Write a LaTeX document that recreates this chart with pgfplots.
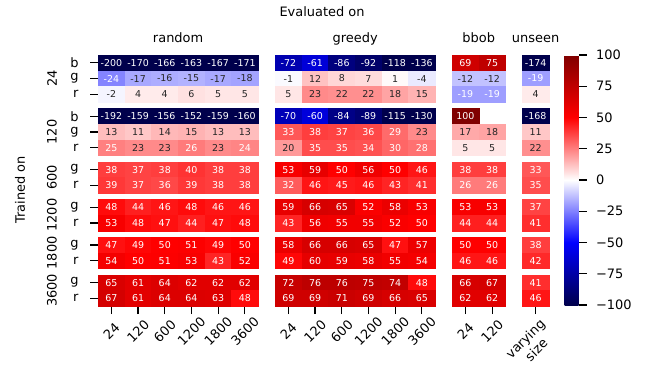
\documentclass[border=0pt]{standalone}
\usepackage{pgfplots}
\usepackage{pgfplotstable}
\pgfplotsset{compat=1.18}
\usepackage{fontspec}
\setmainfont{DejaVu Sans}
\definecolor{annotdark}{rgb}{0.15,0.15,0.15}
\newcommand\lbl{\fontsize{13}{15.6}\selectfont}
\newcommand\ann{\fontsize{9.5}{11}\selectfont}
\newcommand\cx{\thisrow{k}+0.5+0.63*((\thisrow{k}>5)+(\thisrow{k}>11)+(\thisrow{k}>13))}
\newcommand\cy{-(\thisrow{r}+0.5+0.4*((\thisrow{r}>2)+(\thisrow{r}>5)+(\thisrow{r}>7)+(\thisrow{r}>9)+(\thisrow{r}>11)))}
% k = evaluated-on column (0-5 random, 6-11 greedy, 12-13 bbob, 14 unseen)
% r = trained-on row (0-2: 24 b/g/r, 3-5: 120 b/g/r, 6-7: 600 g/r, 8-9: 1200, 10-11: 1800, 12-13: 3600)
\pgfplotstableread[row sep=\\]{
k r v\\
0 0 -200\\ 1 0 -170\\ 2 0 -166\\ 3 0 -163\\ 4 0 -167\\ 5 0 -171\\ 6 0 -72\\ 7 0 -61\\ 8 0 -86\\ 9 0 -92\\ 10 0 -118\\ 11 0 -136\\ 12 0 69\\ 13 0 75\\ 14 0 -174\\
0 1 -24\\ 1 1 -17\\ 2 1 -16\\ 3 1 -15\\ 4 1 -17\\ 5 1 -18\\ 6 1 -1\\ 7 1 12\\ 8 1 8\\ 9 1 7\\ 10 1 1\\ 11 1 -4\\ 12 1 -12\\ 13 1 -12\\ 14 1 -19\\
0 2 -2\\ 1 2 4\\ 2 2 4\\ 3 2 6\\ 4 2 5\\ 5 2 5\\ 6 2 5\\ 7 2 23\\ 8 2 22\\ 9 2 22\\ 10 2 18\\ 11 2 15\\ 12 2 -19\\ 13 2 -19\\ 14 2 4\\
0 3 -192\\ 1 3 -159\\ 2 3 -156\\ 3 3 -152\\ 4 3 -159\\ 5 3 -160\\ 6 3 -70\\ 7 3 -60\\ 8 3 -84\\ 9 3 -89\\ 10 3 -115\\ 11 3 -130\\ 12 3 100\\ 14 3 -168\\
0 4 13\\ 1 4 11\\ 2 4 14\\ 3 4 15\\ 4 4 13\\ 5 4 13\\ 6 4 33\\ 7 4 38\\ 8 4 37\\ 9 4 36\\ 10 4 29\\ 11 4 23\\ 12 4 17\\ 13 4 18\\ 14 4 11\\
0 5 25\\ 1 5 23\\ 2 5 23\\ 3 5 26\\ 4 5 23\\ 5 5 24\\ 6 5 20\\ 7 5 35\\ 8 5 35\\ 9 5 34\\ 10 5 30\\ 11 5 28\\ 12 5 5\\ 13 5 5\\ 14 5 22\\
0 6 38\\ 1 6 37\\ 2 6 38\\ 3 6 40\\ 4 6 38\\ 5 6 38\\ 6 6 53\\ 7 6 59\\ 8 6 50\\ 9 6 56\\ 10 6 50\\ 11 6 46\\ 12 6 38\\ 13 6 38\\ 14 6 33\\
0 7 39\\ 1 7 37\\ 2 7 36\\ 3 7 39\\ 4 7 38\\ 5 7 38\\ 6 7 32\\ 7 7 46\\ 8 7 45\\ 9 7 46\\ 10 7 43\\ 11 7 41\\ 12 7 26\\ 13 7 26\\ 14 7 35\\
0 8 48\\ 1 8 44\\ 2 8 46\\ 3 8 48\\ 4 8 46\\ 5 8 46\\ 6 8 59\\ 7 8 66\\ 8 8 65\\ 9 8 52\\ 10 8 58\\ 11 8 53\\ 12 8 53\\ 13 8 53\\ 14 8 37\\
0 9 53\\ 1 9 48\\ 2 9 47\\ 3 9 44\\ 4 9 47\\ 5 9 48\\ 6 9 43\\ 7 9 56\\ 8 9 55\\ 9 9 55\\ 10 9 52\\ 11 9 50\\ 12 9 44\\ 13 9 44\\ 14 9 41\\
0 10 47\\ 1 10 49\\ 2 10 50\\ 3 10 51\\ 4 10 49\\ 5 10 50\\ 6 10 58\\ 7 10 66\\ 8 10 66\\ 9 10 65\\ 10 10 47\\ 11 10 57\\ 12 10 50\\ 13 10 50\\ 14 10 38\\
0 11 54\\ 1 11 50\\ 2 11 51\\ 3 11 53\\ 4 11 43\\ 5 11 52\\ 6 11 49\\ 7 11 60\\ 8 11 59\\ 9 11 58\\ 10 11 55\\ 11 11 54\\ 12 11 46\\ 13 11 46\\ 14 11 42\\
0 12 65\\ 1 12 61\\ 2 12 64\\ 3 12 62\\ 4 12 62\\ 5 12 62\\ 6 12 72\\ 7 12 76\\ 8 12 76\\ 9 12 75\\ 10 12 74\\ 11 12 48\\ 12 12 66\\ 13 12 67\\ 14 12 41\\
0 13 67\\ 1 13 61\\ 2 13 64\\ 3 13 64\\ 4 13 63\\ 5 13 48\\ 6 13 69\\ 7 13 69\\ 8 13 71\\ 9 13 69\\ 10 13 66\\ 11 13 65\\ 12 13 62\\ 13 13 62\\ 14 13 46\\
}\cells
\begin{document}
\begin{tikzpicture}
\begin{axis}[
  name=main,
  x=26.7bp, y=15.7bp,
  xmin=0, xmax=16.89, ymin=-16, ymax=0,
  enlargelimits=false, clip=false,
  axis line style={draw=none},
  tick align=outside,
  major tick length=8bp,
  tick style={black, line width=1.2bp},
  xtick pos=bottom, ytick pos=left,
  xtick={0.5,1.5,2.5,3.5,4.5,5.5,7.13,8.13,9.13,10.13,11.13,12.13,13.76,14.76},
  xticklabels={24,120,600,1200,1800,3600,24,120,600,1200,1800,3600,24,120},
  extra x ticks={16.39},
  extra x tick labels={varying\\size},
  extra x tick style={xticklabel style={xshift=-12.7bp, yshift=-5.7bp}},
  xticklabel style={yshift=-17bp, rotate=45, anchor=center, font=\lbl, align=center},
  ytick={-15.5,-14.5,-13.1,-12.1,-10.7,-9.7,-8.3,-7.3,-5.9,-4.9,-3.9,-2.5,-1.5,-0.5},
  yticklabels={r,g,r,g,r,g,r,g,r,g,b,r,g,b},
  yticklabel style={font=\lbl, xshift=-8bp},
  colormap={seismic}{rgb=(0,0,0.3) rgb=(0,0,1) rgb=(1,1,1) rgb=(1,0,0) rgb=(0.5,0,0)},
  point meta min=-100, point meta max=100,
  colorbar,
  colorbar style={
    at={(parent axis.north east)}, anchor=north west, xshift=7bp,
    scale only axis, width=14bp, height=250bp,
    axis line style={draw=none},
    ytick={-100,-75,-50,-25,0,25,50,75,100},
    yticklabels={−100,−75,−50,−25,0,25,50,75,100},
    yticklabel style={font=\lbl, xshift=6bp},
    tick align=outside, major tick length=8bp,
    tick style={black, line width=1.2bp},
    ytick pos=right, yticklabel pos=right,
  },
]
\addplot[scatter, only marks, mark=square*, mark size=7.85bp,
  mark options={xscale=1.7006, line width=0.2bp},
  scatter/use mapped color={draw=mapped color, fill=mapped color},
  point meta=explicit]
  table[x expr={\cx}, y expr={\cy}, meta=v]{\cells};
\addplot[only marks, mark=none, point meta=explicit symbolic, nodes near coords,
  every node near coord/.append style={anchor=center, font=\ann, text=annotdark},
  restrict expr to domain={\thisrow{v}}{-18.5:23.5}]
  table[x expr={\cx}, y expr={\cy}, meta=v]{\cells};
\addplot[only marks, mark=none, point meta=explicit symbolic, nodes near coords,
  every node near coord/.append style={anchor=center, font=\ann, text=white},
  restrict expr to domain={\thisrow{v}}{23.5:1000}]
  table[x expr={\cx}, y expr={\cy}, meta=v]{\cells};
\addplot[only marks, mark=none, point meta=explicit symbolic, nodes near coords,
  every node near coord/.append style={anchor=center, font=\ann, text=white},
  restrict expr to domain={\thisrow{v}}{-1000:-18.5}]
  table[x expr={\cx}, y expr={\cy}, meta=v]{\cells};
\node[anchor=base, font=\lbl] at ([yshift=38bp]axis cs:8.39,0) {Evaluated on};
\node[anchor=base, font=\lbl] at ([yshift=13bp]axis cs:3,0) {random};
\node[anchor=base, font=\lbl] at ([yshift=13bp]axis cs:9.63,0) {greedy};
\node[anchor=base, font=\lbl] at ([yshift=13bp]axis cs:14.26,0) {bbob};
\node[anchor=base, font=\lbl] at ([yshift=13bp]axis cs:16.39,0) {unseen};
\node[rotate=90, font=\lbl] at ([xshift=-46bp]axis cs:0,-1.5) {24};
\node[rotate=90, font=\lbl] at ([xshift=-46bp]axis cs:0,-4.9) {120};
\node[rotate=90, font=\lbl] at ([xshift=-46bp]axis cs:0,-7.8) {600};
\node[rotate=90, font=\lbl] at ([xshift=-46bp]axis cs:0,-10.2) {1200};
\node[rotate=90, font=\lbl] at ([xshift=-46bp]axis cs:0,-12.6) {1800};
\node[rotate=90, font=\lbl] at ([xshift=-46bp]axis cs:0,-15.0) {3600};
\node[rotate=90, font=\lbl] at ([xshift=-78bp]axis cs:0,-8.6) {Trained on};
\end{axis}
\pgfresetboundingbox
\path ([xshift=-98bp,yshift=55bp]main.north west) rectangle ([xshift=100bp,yshift=-67bp]main.south east);
\end{tikzpicture}
\end{document}
